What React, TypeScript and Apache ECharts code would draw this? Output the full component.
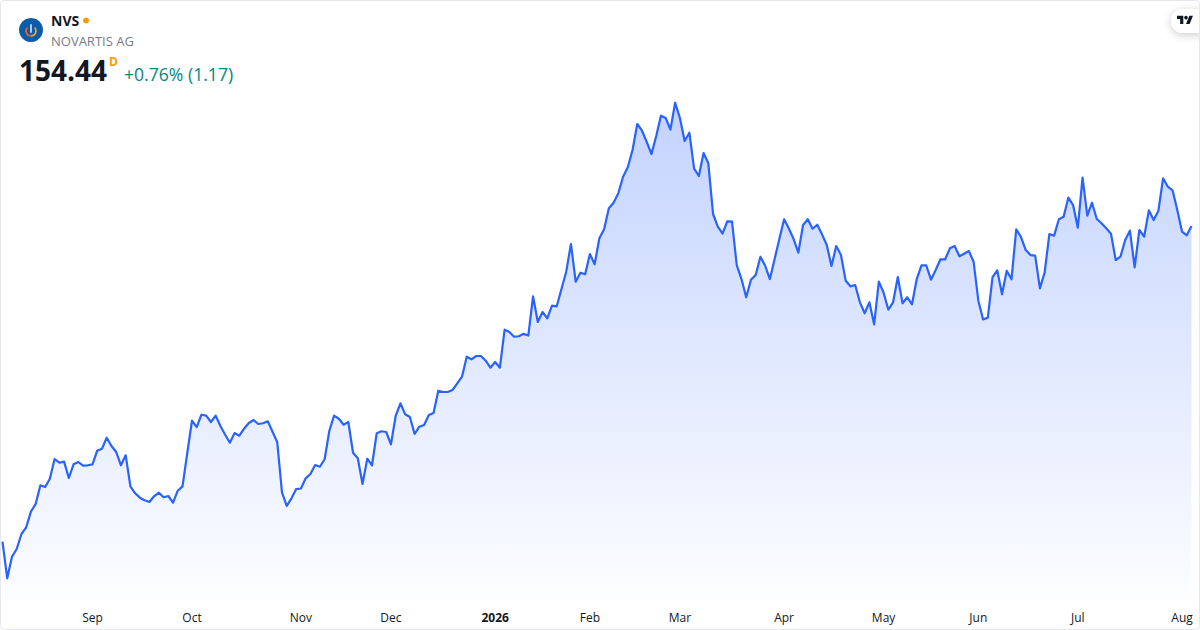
import React, { useEffect, useRef } from "react";
import * as echarts from "echarts";

const symbol = "NVS";
const companyName = "NOVARTIS AG";
const lastPrice = "154.44";
const changeText = "+0.76% (1.17)";
const intervalMark = "D";

const tickIndexes = [19, 40, 63, 82, 104, 124, 143, 165, 186, 206, 227, 249];
const tickLabels = ["Sep", "Oct", "Nov", "Dec", "2026", "Feb", "Mar", "Apr", "May", "Jun", "Jul", "Aug"];

const closes = [
  114.98, 110.4, 113.1, 114.06, 115.94, 116.78, 118.73, 119.69, 122.03, 121.81,
  122.85, 125.31, 124.85, 124.98, 122.94, 124.65, 124.94, 124.48, 124.53, 124.65,
  126.35, 126.6, 127.98, 126.94, 126.19, 124.53, 125.78, 121.9, 121.03, 120.48,
  120.15, 119.94, 120.65, 121.1, 120.53, 120.69, 119.85, 121.35, 121.9, 126.03,
  130.1, 129.31, 130.85, 130.73, 129.94, 130.73, 129.44, 128.35, 127.35, 128.56,
  128.23, 129.1, 129.81, 130.19, 129.69, 129.78, 130.03, 128.73, 127.4, 121.15,
  119.44, 120.4, 121.56, 121.63, 122.9, 123.44, 124.56, 124.35, 125.28, 128.85,
  130.73, 130.35, 129.6, 129.94, 126.1, 125.4, 122.19, 125.35, 124.53, 128.53,
  128.78, 128.69, 127.15, 130.69, 132.28, 130.9, 130.56, 128.44, 129.35, 129.56,
  130.81, 131.06, 133.85, 133.69, 133.69, 133.94, 134.78, 135.6, 138.1, 137.78,
  138.19, 138.19, 137.6, 136.73, 137.44, 136.73, 141.48, 141.19, 140.6, 140.66,
  140.96, 140.75, 145.65, 142.44, 143.69, 142.9, 144.48, 144.4, 146.56, 148.73,
  152.19, 147.48, 148.6, 148.4, 150.94, 149.65, 152.9, 154.03, 156.65, 157.35,
  158.53, 160.6, 161.78, 163.94, 167.19, 166.35, 164.94, 163.44, 165.69, 168.23,
  167.94, 166.48, 169.85, 167.94, 165.06, 166.1, 161.6, 160.69, 163.56, 162.28,
  155.94, 154.35, 153.48, 155.03, 154.98, 149.56, 147.81, 145.53, 147.73, 148.31,
  150.6, 149.46, 147.81, 150.31, 152.84, 155.28, 154.13, 152.81, 151.1, 154.56,
  155.28, 154.1, 154.6, 153.4, 152.06, 149.44, 151.94, 150.81, 147.6, 146.9,
  147.06, 144.9, 143.53, 144.9, 142.15, 147.48, 146.1, 143.98, 144.9, 148.06,
  144.78, 145.53, 144.65, 147.81, 149.53, 149.53, 147.73, 148.94, 150.28, 150.28,
  151.65, 151.94, 150.65, 150.98, 151.31, 149.98, 145.1, 142.76, 142.99, 148.04,
  148.88, 145.9, 148.85, 147.78, 154.03, 153.06, 151.44, 150.81, 150.73, 146.65,
  148.65, 153.44, 153.23, 155.28, 155.6, 157.98, 157.06, 154.23, 160.48, 155.73,
  157.35, 155.31, 154.78, 154.15, 153.48, 150.19, 150.6, 152.69, 153.85, 149.28,
  153.94, 153.1, 156.4, 155.19, 156.31, 160.4, 159.35, 158.9, 156.44, 153.73,
  153.27, 154.44,
];

const categories = closes.map((_, i) => String(i));
const FONT = '"Open Sans", "Noto Sans", sans-serif';

echarts.graphic.registerShape(
  "tvMark",
  echarts.graphic.extendPath("M14 22H7V11H0V4h14v18zM28 22h-8l7.5-18h8L28 22z", {}) as any
);

export default function App() {
  const ref = useRef<HTMLDivElement>(null);
  useEffect(() => {
    document.body.style.margin = "0";
    const chart = echarts.init(ref.current!, undefined, { renderer: "svg" });
    chart.setOption({
      animation: false,
      backgroundColor: "#ffffff",
      grid: { left: 2.5, width: 1189, top: 0, height: 600 },
      xAxis: {
        type: "category",
        data: categories,
        boundaryGap: false,
        axisLine: { show: false },
        axisTick: { show: false },
        splitLine: { show: false },
        axisLabel: {
          interval: (i: number) => tickIndexes.includes(i),
          hideOverlap: false,
          margin: 11,
          color: "#131722",
          fontFamily: FONT,
          fontSize: 12,
          formatter: (_: string, i: number) => {
            const label = tickLabels[tickIndexes.indexOf(i)] ?? "";
            return label === "2026" ? `{b|${label}}` : label;
          },
          rich: { b: { fontWeight: 700, color: "#131722", fontFamily: FONT, fontSize: 12 } },
        },
      },
      yAxis: { type: "value", show: false, min: 107.69, max: 182.69, splitLine: { show: false } },
      series: [
        {
          type: "line",
          data: closes,
          symbol: "none",
          smooth: false,
          lineStyle: { color: "#2962FF", width: 2.2, join: "round" },
          areaStyle: {
            origin: "start",
            opacity: 1,
            color: new echarts.graphic.LinearGradient(0, 0, 0, 1, [
              { offset: 0, color: "rgba(41,98,255,0.28)" },
              { offset: 1, color: "rgba(41,98,255,0.01)" },
            ]),
          },
        },
      ],
      graphic: [
        { type: "rect", silent: true, z: 100, shape: { x: 0.5, y: 0.5, width: 1199, height: 629, r: 4 }, style: { fill: "none", stroke: "#e5e7ec", lineWidth: 1 } },
        { type: "circle", z: 101, shape: { cx: 31, cy: 30, r: 12 }, style: { fill: "#0b5ca8" } },
        { type: "arc", z: 102, shape: { cx: 31, cy: 31, r: 5, startAngle: Math.PI * 0.5, endAngle: Math.PI * 1.25 }, style: { fill: "none", stroke: "#e8622a", lineWidth: 1.6 } },
        { type: "arc", z: 102, shape: { cx: 31, cy: 31, r: 5, startAngle: Math.PI * -0.25, endAngle: Math.PI * 0.5 }, style: { fill: "none", stroke: "#f2a33a", lineWidth: 1.6 } },
        { type: "rect", z: 103, shape: { x: 30, y: 24, width: 2, height: 9, r: 1 }, style: { fill: "#a9cdea" } },
        { type: "text", z: 101, style: { x: 51, y: 20, text: symbol, fontFamily: FONT, fontSize: 14, fontWeight: 700, fill: "#131722", verticalAlign: "middle" } },
        { type: "circle", z: 101, shape: { cx: 86, cy: 20.5, r: 3 }, style: { fill: "#ff9800" } },
        { type: "text", z: 101, style: { x: 51, y: 40.5, text: companyName, fontFamily: FONT, fontSize: 13, fill: "#787b86", verticalAlign: "middle" } },
        { type: "text", z: 101, style: { x: 19, y: 70, text: lastPrice, fontFamily: FONT, fontSize: 28, fontWeight: 700, fill: "#131722", verticalAlign: "middle" } },
        { type: "text", z: 101, style: { x: 109, y: 61, text: intervalMark, fontFamily: FONT, fontSize: 12, fontWeight: 700, fill: "#ff9800", verticalAlign: "middle" } },
        { type: "text", z: 101, style: { x: 124, y: 74, text: changeText, fontFamily: FONT, fontSize: 17.6, fill: "#00897B", verticalAlign: "middle" } },
        { type: "rect", z: 99, shape: { x: 1171, y: 9, width: 40, height: 24, r: 12 }, style: { fill: "#ffffff", shadowColor: "rgba(0,0,0,0.2)", shadowBlur: 8, shadowOffsetY: 2 } },
        { type: "tvMark", z: 101, x: 1177, y: 14, scaleX: 0.45, scaleY: 0.45, style: { fill: "#131722" } },
        { type: "circle", z: 101, shape: { cx: 1186, cy: 17.6, r: 1.8 }, style: { fill: "#131722" } },
      ],
    } as any);
    return () => chart.dispose();
  }, []);
  return <div ref={ref} style={{ width: 1200, height: 630 }} />;
}
